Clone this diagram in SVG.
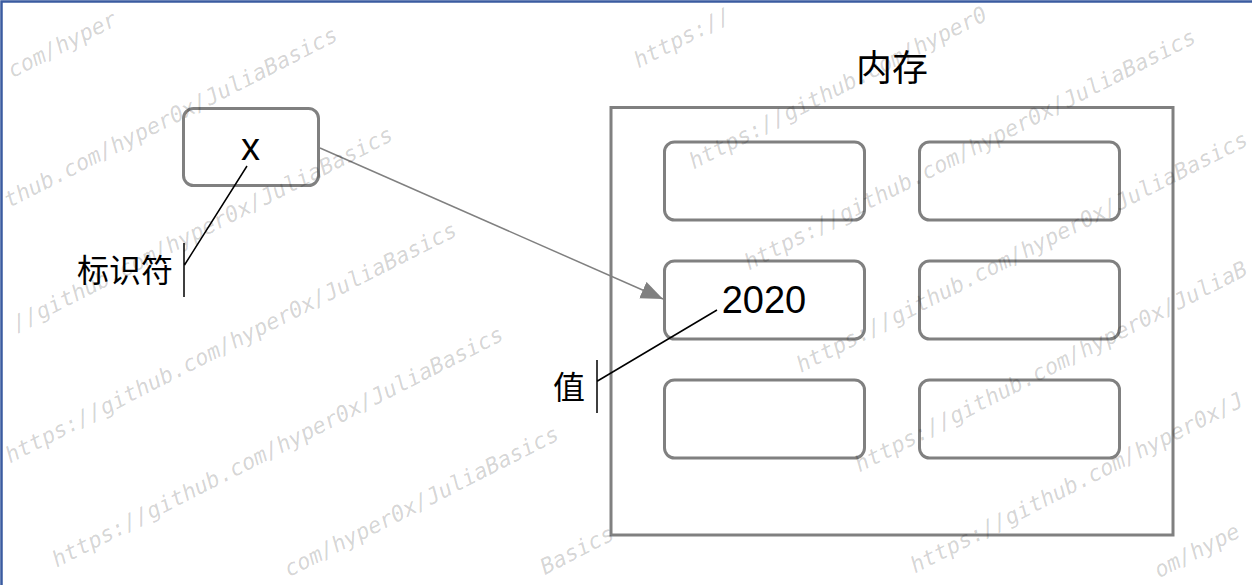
<svg xmlns="http://www.w3.org/2000/svg" width="1252" height="585" viewBox="0 0 1252 585">
<style>
.box{fill:#fff;stroke:#808080;stroke-width:3}
.lbl{font-family:"Liberation Sans","Noto Sans CJK SC",sans-serif;fill:#000}
.cjk{font-family:"Noto Sans CJK SC","Liberation Sans",sans-serif;fill:#000}
.lead{stroke:#000;stroke-width:1.5;fill:none}
.conn{stroke:#808080;stroke-width:1.5;fill:none}
.wm{font-family:"DejaVu Sans Mono",monospace;font-style:oblique;font-size:22px;fill:#000;fill-opacity:0.18}
</style>
<defs>
<marker id="ah" markerUnits="userSpaceOnUse" markerWidth="24" markerHeight="20" refX="22" refY="9" orient="auto"><path d="M0,0 L22,9 L0,18 z" fill="#808080"/></marker>
</defs>
<rect width="1252" height="585" fill="#fff"/>
<path d="M1.5,585 V1.5 H1252" stroke="#3a5ba0" stroke-width="2.5" fill="none"/>
<g id="memory">
<rect class="box" x="611" y="107.5" width="562" height="427.5"/>
<text class="cjk" x="892" y="81" font-size="36" text-anchor="middle">内存</text>
</g>
<g id="cell-1-1"><rect class="box" x="664.5" y="142" width="200" height="78" rx="10"/></g>
<g id="cell-1-2"><rect class="box" x="919.5" y="142" width="200" height="78" rx="10"/></g>
<g id="cell-2-1"><rect class="box" x="664.5" y="261" width="200" height="78" rx="10"/><text class="lbl" x="764" y="313" font-size="38" text-anchor="middle">2020</text></g>
<g id="cell-2-2"><rect class="box" x="919.5" y="261" width="200" height="78" rx="10"/></g>
<g id="cell-3-1"><rect class="box" x="664.5" y="380" width="200" height="78" rx="10"/></g>
<g id="cell-3-2"><rect class="box" x="919.5" y="380" width="200" height="78" rx="10"/></g>
<g id="var-x"><rect class="box" x="183.5" y="108.5" width="135" height="77" rx="10"/><text class="lbl" x="250.5" y="160" font-size="38" text-anchor="middle">x</text></g>
<g id="label-identifier"><text class="cjk" x="77" y="282" font-size="32">标识符</text></g>
<g id="label-value"><text class="cjk" x="553" y="399" font-size="32">值</text></g>
<g id="connectors">
<line class="conn" x1="320" y1="148" x2="663" y2="299" marker-end="url(#ah)"/>
<path class="lead" d="M184,243 V297 M184.5,265 L247,166"/>
<path class="lead" d="M597,360 V413 M597.5,381 L717,310"/>
</g>
<g id="watermark">
<text class="wm" x="198.7" transform="translate(-164.5,168.5) rotate(-27)">com/hyper</text>
<text class="wm" x="132.4" transform="translate(-109.2,268.3) rotate(-27)">thub.com/hyper0x/JuliaBasics</text>
<text class="wm" x="79.5" transform="translate(-53.9,368.1) rotate(-27)">//github.com/hyper0x/JuliaBasics</text>
<text class="wm" transform="translate(10,463.5) rotate(-27)">https://github.com/hyper0x/JuliaBasics</text>
<text class="wm" transform="translate(56.7,567.7) rotate(-27)">https://github.com/hyper0x/JuliaBasics</text>
<text class="wm" x="198.7" transform="translate(112,667.5) rotate(-27)">com/hyper0x/JuliaBasics</text>
<text class="wm" x="423.8" transform="translate(167.3,767.3) rotate(-27)">Basics</text>
<text class="wm" transform="translate(638.4,68.5) rotate(-27)">https://</text>
<text class="wm" transform="translate(693.7,169.5) rotate(-27)">https://github.com/hyper0</text>
<text class="wm" transform="translate(749,270.5) rotate(-27)">https://github.com/hyper0x/JuliaBasics</text>
<text class="wm" transform="translate(801,373) rotate(-27)">https://github.com/hyper0x/JuliaBasics</text>
<text class="wm" transform="translate(859.6,472.5) rotate(-27)">https://github.com/hyper0x/JuliaB</text>
<text class="wm" transform="translate(914.9,573.5) rotate(-27)">https://github.com/hyper0x/J</text>
<text class="wm" x="211.9" transform="translate(970.2,674.5) rotate(-27)">om/hype</text>
</g>
</svg>
